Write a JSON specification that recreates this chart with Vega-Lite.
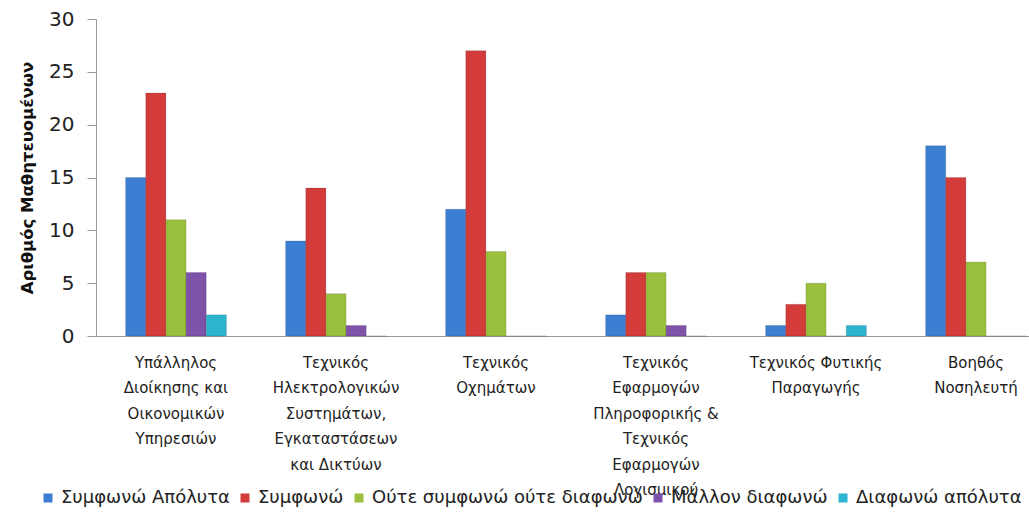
{
  "$schema": "https://vega.github.io/schema/vega-lite/v6.json",
  "autosize": "none",
  "width": 960,
  "height": 317,
  "padding": {"left": 96, "top": 19, "right": 0, "bottom": 179},
  "background": "white",
  "config": {"view": {"stroke": null}, "font": "DejaVu Sans"},
  "datasets": {
    "rows": [
      {"category": "Υπάλληλος\nΔιοίκησης και\nΟικονομικών\nΥπηρεσιών", "series": "Συμφωνώ Απόλυτα", "value": 15},
      {"category": "Υπάλληλος\nΔιοίκησης και\nΟικονομικών\nΥπηρεσιών", "series": "Συμφωνώ", "value": 23},
      {"category": "Υπάλληλος\nΔιοίκησης και\nΟικονομικών\nΥπηρεσιών", "series": "Ούτε συμφωνώ ούτε διαφωνώ", "value": 11},
      {"category": "Υπάλληλος\nΔιοίκησης και\nΟικονομικών\nΥπηρεσιών", "series": "Μάλλον διαφωνώ", "value": 6},
      {"category": "Υπάλληλος\nΔιοίκησης και\nΟικονομικών\nΥπηρεσιών", "series": "Διαφωνώ απόλυτα", "value": 2},
      {"category": "Τεχνικός\nΗλεκτρολογικών\nΣυστημάτων,\nΕγκαταστάσεων\nκαι Δικτύων", "series": "Συμφωνώ Απόλυτα", "value": 9},
      {"category": "Τεχνικός\nΗλεκτρολογικών\nΣυστημάτων,\nΕγκαταστάσεων\nκαι Δικτύων", "series": "Συμφωνώ", "value": 14},
      {"category": "Τεχνικός\nΗλεκτρολογικών\nΣυστημάτων,\nΕγκαταστάσεων\nκαι Δικτύων", "series": "Ούτε συμφωνώ ούτε διαφωνώ", "value": 4},
      {"category": "Τεχνικός\nΗλεκτρολογικών\nΣυστημάτων,\nΕγκαταστάσεων\nκαι Δικτύων", "series": "Μάλλον διαφωνώ", "value": 1},
      {"category": "Τεχνικός\nΗλεκτρολογικών\nΣυστημάτων,\nΕγκαταστάσεων\nκαι Δικτύων", "series": "Διαφωνώ απόλυτα", "value": 0},
      {"category": "Τεχνικός\nΟχημάτων", "series": "Συμφωνώ Απόλυτα", "value": 12},
      {"category": "Τεχνικός\nΟχημάτων", "series": "Συμφωνώ", "value": 27},
      {"category": "Τεχνικός\nΟχημάτων", "series": "Ούτε συμφωνώ ούτε διαφωνώ", "value": 8},
      {"category": "Τεχνικός\nΟχημάτων", "series": "Μάλλον διαφωνώ", "value": 0},
      {"category": "Τεχνικός\nΟχημάτων", "series": "Διαφωνώ απόλυτα", "value": 0},
      {"category": "Τεχνικός\nΕφαρμογών\nΠληροφορικής &\nΤεχνικός\nΕφαρμογών\nΛογισμικού", "series": "Συμφωνώ Απόλυτα", "value": 2},
      {"category": "Τεχνικός\nΕφαρμογών\nΠληροφορικής &\nΤεχνικός\nΕφαρμογών\nΛογισμικού", "series": "Συμφωνώ", "value": 6},
      {"category": "Τεχνικός\nΕφαρμογών\nΠληροφορικής &\nΤεχνικός\nΕφαρμογών\nΛογισμικού", "series": "Ούτε συμφωνώ ούτε διαφωνώ", "value": 6},
      {"category": "Τεχνικός\nΕφαρμογών\nΠληροφορικής &\nΤεχνικός\nΕφαρμογών\nΛογισμικού", "series": "Μάλλον διαφωνώ", "value": 1},
      {"category": "Τεχνικός\nΕφαρμογών\nΠληροφορικής &\nΤεχνικός\nΕφαρμογών\nΛογισμικού", "series": "Διαφωνώ απόλυτα", "value": 0},
      {"category": "Τεχνικός Φυτικής\nΠαραγωγής", "series": "Συμφωνώ Απόλυτα", "value": 1},
      {"category": "Τεχνικός Φυτικής\nΠαραγωγής", "series": "Συμφωνώ", "value": 3},
      {"category": "Τεχνικός Φυτικής\nΠαραγωγής", "series": "Ούτε συμφωνώ ούτε διαφωνώ", "value": 5},
      {"category": "Τεχνικός Φυτικής\nΠαραγωγής", "series": "Μάλλον διαφωνώ", "value": 0},
      {"category": "Τεχνικός Φυτικής\nΠαραγωγής", "series": "Διαφωνώ απόλυτα", "value": 1},
      {"category": "Βοηθός\nΝοσηλευτή", "series": "Συμφωνώ Απόλυτα", "value": 18},
      {"category": "Βοηθός\nΝοσηλευτή", "series": "Συμφωνώ", "value": 15},
      {"category": "Βοηθός\nΝοσηλευτή", "series": "Ούτε συμφωνώ ούτε διαφωνώ", "value": 7},
      {"category": "Βοηθός\nΝοσηλευτή", "series": "Μάλλον διαφωνώ", "value": 0},
      {"category": "Βοηθός\nΝοσηλευτή", "series": "Διαφωνώ απόλυτα", "value": 0}
    ]
  },
  "data": {"name": "rows"},
  "mark": {"type": "bar", "stroke": "rgba(0,0,0,0.25)", "strokeWidth": 0.5},
  "encoding": {
    "x": {
      "field": "category",
      "type": "nominal",
      "sort": null,
      "scale": {"paddingInner": 0.37, "paddingOuter": 0.185},
      "axis": {
        "title": null,
        "labelAngle": 0,
        "labelExpr": "split(datum.label, '\\n')",
        "labelFont": "DejaVu Sans",
        "labelFontSize": 15,
        "labelColor": "#222",
        "labelLineHeight": 25.5,
        "labelLimit": 0,
        "labelPadding": 19,
        "ticks": false,
        "domainColor": "#999",
        "labelOverlap": false
      }
    },
    "xOffset": {"field": "series", "type": "nominal", "sort": null, "scale": {"paddingInner": 0, "paddingOuter": 0}},
    "y": {
      "field": "value",
      "type": "quantitative",
      "scale": {"domain": [0, 30]},
      "axis": {
        "title": "Αριθμός Μαθητευομένων",
        "titleFont": "DejaVu Sans",
        "titleFontSize": 16.5,
        "titleFontWeight": "bold",
        "titleColor": "#111",
        "titlePadding": 13,
        "values": [0, 5, 10, 15, 20, 25, 30],
        "grid": false,
        "labelFont": "DejaVu Sans",
        "labelFontSize": 20,
        "labelColor": "#222",
        "labelPadding": 13,
        "tickSize": 9,
        "tickColor": "#999",
        "domainColor": "#999"
      }
    },
    "color": {
      "field": "series",
      "type": "nominal",
      "sort": null,
      "scale": {
        "domain": ["Συμφωνώ Απόλυτα", "Συμφωνώ", "Ούτε συμφωνώ ούτε διαφωνώ", "Μάλλον διαφωνώ", "Διαφωνώ απόλυτα"],
        "range": ["#3b7ed2", "#d43b3b", "#9bc03e", "#7d52a9", "#2db4d0"]
      },
      "legend": {
        "title": null,
        "orient": "none",
        "direction": "horizontal",
        "legendX": -57,
        "legendY": 470,
        "symbolType": "square",
        "symbolSize": 81,
        "symbolStrokeWidth": 0,
        "labelFont": "DejaVu Sans",
        "labelFontSize": 18,
        "labelColor": "#222",
        "columnPadding": 6,
        "labelOffset": 4,
        "labelLimit": 0
      }
    }
  }
}
